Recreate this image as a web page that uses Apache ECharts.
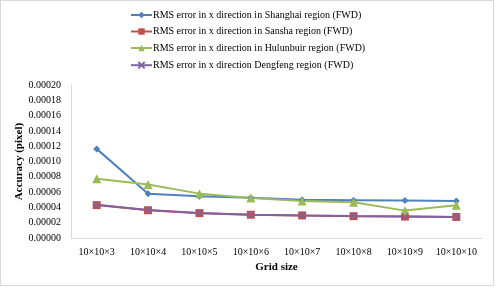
<!DOCTYPE html>
<html>
<head>
<meta charset="utf-8">
<script src="https://cdn.jsdelivr.net/npm/echarts@6/dist/echarts.min.js"></script>
<style>
  html, body { margin: 0; padding: 0; background: #fff; }
  #chart { position: absolute; left: 0; top: 0; width: 494px; height: 286px; border: 1px solid #d9d9d9; box-sizing: border-box; }
</style>
</head>
<body>
<div id="chart"></div>
<script>
const categories = ['10×10×3', '10×10×4', '10×10×5', '10×10×6', '10×10×7', '10×10×8', '10×10×9', '10×10×10']
const shanghai = [0.0001165, 0.0000580, 0.0000545, 0.0000525, 0.0000500, 0.0000495, 0.0000490, 0.0000485]
const sansha = [0.0000430, 0.0000363, 0.0000325, 0.0000304, 0.0000295, 0.0000285, 0.0000280, 0.0000275]
const hulunbuir = [0.0000775, 0.0000700, 0.0000580, 0.0000523, 0.0000485, 0.0000468, 0.0000358, 0.0000427]
const dengfeng = [0.0000435, 0.0000365, 0.0000327, 0.0000305, 0.0000294, 0.0000286, 0.0000281, 0.0000276]
const seriesNames = [
  'RMS error in x direction in Shanghai region (FWD)',
  'RMS error in x direction in Sansha region (FWD)',
  'RMS error in x direction in Hulunbuir region (FWD)',
  'RMS error in x direction Dengfeng region (FWD)'
]

const font = 'Liberation Serif'
const chart = echarts.init(document.getElementById('chart'))

const makeSeries = (name, data, color, symbol, size) => ({
  name: name,
  type: 'line',
  data: data,
  symbol: symbol,
  symbolSize: size,
  showSymbol: true,
  lineStyle: { color: color, width: 2 },
  itemStyle: { color: color },
  emphasis: { disabled: true }
})

const cross = makeSeries(seriesNames[3], dengfeng, '#8064A2', 'path://M0,0L10,10M10,0L0,10', 6)
cross.itemStyle = { color: 'none', borderColor: '#8064A2', borderWidth: 1.5 }

chart.setOption({
  animation: false,
  textStyle: { fontFamily: font },
  legend: {
    orient: 'vertical',
    left: 124,
    top: 4,
    itemWidth: 21,
    itemHeight: 8,
    itemGap: 6.5,
    textStyle: { fontFamily: font, fontSize: 10, color: '#000', padding: [0, 0, 0, -4] },
    data: seriesNames
  },
  grid: { left: 70, right: 11, top: 84, bottom: 47 },
  xAxis: {
    type: 'category',
    data: categories,
    boundaryGap: true,
    name: 'Grid size',
    nameLocation: 'middle',
    nameGap: 24,
    nameTextStyle: { fontFamily: font, fontSize: 11, fontWeight: 'bold', color: '#000' },
    axisLine: { lineStyle: { color: '#d9d9d9' } },
    axisTick: { show: false },
    axisLabel: { fontFamily: font, fontSize: 10, color: '#000', margin: 9, interval: 0 }
  },
  yAxis: {
    type: 'value',
    min: 0,
    max: 0.0002,
    interval: 0.00002,
    name: 'Accuracy (pixel)',
    nameLocation: 'middle',
    nameGap: 46,
    nameMoveOverlap: false,
    nameTextStyle: { fontFamily: font, fontSize: 11, fontWeight: 'bold', color: '#000' },
    axisLine: { show: true, lineStyle: { color: '#d9d9d9' } },
    axisTick: { show: false },
    splitLine: { show: false },
    axisLabel: {
      fontFamily: font, fontSize: 10, color: '#000', margin: 10,
      formatter: v => v.toFixed(5)
    }
  },
  series: [
    makeSeries(seriesNames[0], shanghai, '#4F81BD', 'diamond', 7),
    makeSeries(seriesNames[1], sansha, '#C0504D', 'rect', 8),
    makeSeries(seriesNames[2], hulunbuir, '#9BBB59', 'triangle', 9),
    cross
  ]
})
</script>
</body>
</html>
